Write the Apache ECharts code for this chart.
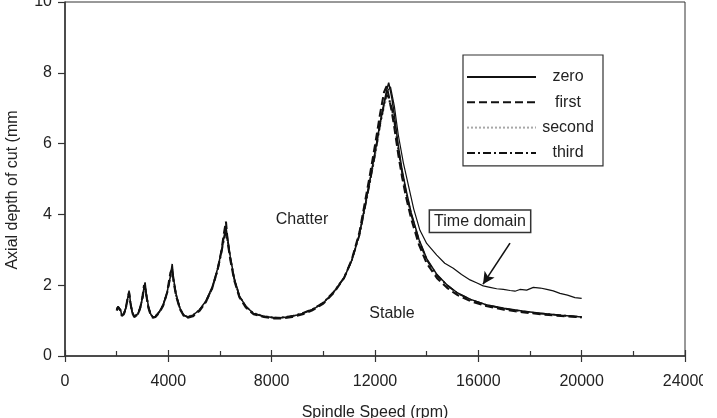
<!DOCTYPE html>
<html>
<head>
<meta charset="utf-8">
<script src="https://cdn.jsdelivr.net/npm/echarts@6/dist/echarts.min.js"></script>
<style>
html,body{margin:0;padding:0;background:#fff;}
#chart{width:703px;height:418px;}
</style>
</head>
<body>
<div id="chart"></div>
<script>
// ---- data ----
const speeds = [2000,2050,2100,2150,2200,2280,2350,2420,2480,2530,
  2600,2680,2750,2830,2920,3000,3060,3100,3150,3230,
  3320,3400,3500,3650,3800,3950,4080,4150,4200,4300,
  4450,4600,4750,4950,5200,5450,5700,5900,6050,6150,
  6230,6300,6400,6550,6750,7000,7300,7700,8100,8400,
  8800,9200,9600,10000,10400,10800,11100,11400,11600,11800,
  12000,12200,12350,12450,12530,12650,12750,12900,13050,13200,
  13400,13700,14000,14400,14800,15200,15700,16300,17000,17700,
  18400,19200,20000];
const zeroDepth = [1.30,1.40,1.45,1.30,1.15,1.20,1.35,1.60,1.85,1.55,
  1.25,1.12,1.10,1.20,1.40,1.65,1.95,2.08,1.75,1.40,
  1.18,1.10,1.12,1.25,1.45,1.80,2.25,2.60,2.20,1.75,
  1.35,1.15,1.10,1.15,1.30,1.55,1.95,2.45,2.95,3.35,
  3.65,3.30,2.80,2.20,1.70,1.40,1.20,1.12,1.08,1.08,
  1.12,1.20,1.32,1.50,1.80,2.20,2.70,3.45,4.20,4.95,
  5.75,6.60,7.15,7.50,7.72,7.30,6.80,5.95,5.25,4.70,
  4.05,3.30,2.75,2.30,2.00,1.78,1.60,1.45,1.35,1.27,
  1.21,1.15,1.10];
const firstDepth = [1.28,1.38,1.42,1.28,1.13,1.18,1.33,1.62,1.80,1.50,
  1.22,1.10,1.08,1.18,1.38,1.68,2.00,2.02,1.70,1.36,
  1.15,1.08,1.10,1.22,1.42,1.78,2.35,2.45,2.12,1.70,
  1.32,1.13,1.08,1.12,1.27,1.52,1.92,2.42,2.95,3.45,
  3.80,3.20,2.72,2.14,1.66,1.37,1.18,1.10,1.06,1.06,
  1.10,1.18,1.30,1.48,1.78,2.20,2.72,3.50,4.30,5.10,
  5.95,6.85,7.45,7.62,7.35,6.90,6.45,5.70,5.05,4.50,
  3.88,3.15,2.62,2.20,1.92,1.72,1.55,1.41,1.31,1.24,
  1.18,1.13,1.09];
const secondDepth = [1.32,1.41,1.44,1.32,1.17,1.22,1.36,1.58,1.78,1.52,
  1.26,1.14,1.12,1.21,1.40,1.63,1.90,2.00,1.72,1.39,
  1.19,1.12,1.14,1.26,1.46,1.78,2.20,2.45,2.16,1.73,
  1.35,1.17,1.12,1.17,1.31,1.55,1.93,2.40,2.88,3.25,
  3.45,3.22,2.75,2.18,1.70,1.41,1.22,1.14,1.10,1.10,
  1.14,1.22,1.34,1.52,1.82,2.22,2.70,3.40,4.10,4.85,
  5.60,6.45,7.00,7.28,7.20,6.95,6.55,5.80,5.15,4.60,
  3.98,3.25,2.70,2.27,1.98,1.77,1.59,1.45,1.34,1.26,
  1.20,1.15,1.11];
const thirdDepth = [1.30,1.39,1.43,1.30,1.15,1.20,1.34,1.57,1.76,1.52,
  1.24,1.12,1.10,1.19,1.38,1.62,1.90,1.98,1.72,1.38,
  1.17,1.10,1.12,1.24,1.44,1.77,2.22,2.42,2.15,1.72,
  1.34,1.15,1.10,1.15,1.29,1.53,1.92,2.40,2.90,3.28,
  3.50,3.25,2.77,2.18,1.69,1.40,1.20,1.12,1.08,1.09,
  1.13,1.21,1.33,1.51,1.81,2.21,2.70,3.42,4.15,4.90,
  5.68,6.55,7.10,7.38,7.30,7.00,6.62,5.85,5.18,4.63,
  4.00,3.27,2.72,2.28,1.99,1.77,1.59,1.44,1.34,1.26,
  1.20,1.15,1.10];
const tdSpeeds = [11400,11800,12200,12450,12600,12750,12900,13100,13300,13500,
  13740,14000,14390,14700,15030,15350,15680,15950,16190,16450,
  16710,16970,17230,17420,17610,17870,18130,18400,18650,18900,
  19160,19450,19740,20000];
const tdDepth = [3.45,4.95,6.60,7.45,7.60,7.05,6.25,5.45,4.80,4.15,
  3.55,3.18,2.85,2.62,2.48,2.30,2.15,2.06,1.98,1.94,
  1.90,1.88,1.85,1.83,1.88,1.86,1.94,1.92,1.88,1.84,
  1.77,1.72,1.65,1.63];
const legendNames = ['zero','first','second','third'];
const noteTexts = ['Chatter','Stable','Time domain'];
const noteX = [9174,12658,16065];
const noteY = [3.84,1.19,3.81];
const arrowFrom = [17226,3.19];
const arrowTo = [16181,2.03];
const xTicks = {min:0,max:24000,step:4000};
const yTicks = {min:0,max:10,step:2};

// ---- chart ----
const pair = (xs, ys) => xs.map((x,i)=>[x, ys[i]]);
const FONT = "'Liberation Sans', Arial, sans-serif";
const TXT = '#222';
const NOFILL = 'rgba(0,0,0,0)';
const chart = echarts.init(document.getElementById('chart'), null, {renderer:'canvas'});
const base = {type:'line', showSymbol:false, symbol:'none', smooth:false, animation:false, silent:true,
  itemStyle:{color:NOFILL, borderColor:NOFILL, borderWidth:0}};
const option = {
  animation:false,
  textStyle:{fontFamily:FONT},
  grid:{left:65, right:18, top:2, bottom:62, show:true, borderColor:'#333', borderWidth:1,
    containLabel:false, outerBoundsMode:'none'},
  legend:{
    data:legendNames,
    orient:'vertical', left:463, top:55,
    padding:[14,8,5,3],
    itemWidth:69, itemHeight:14, itemGap:9.3,
    borderColor:'#333', borderWidth:1.2, backgroundColor:'#fff',
    itemStyle:{color:NOFILL, borderColor:NOFILL, borderWidth:0, opacity:0},
    formatter: n => '{c|' + n + '}',
    textStyle:{fontFamily:FONT, fontSize:16, color:TXT, lineHeight:14,
      rich:{c:{width:54, align:'center', fontSize:16, color:TXT, fontFamily:FONT, lineHeight:14}}},
    selectedMode:false
  },
  xAxis:[{
    type:'value', min:xTicks.min, max:xTicks.max, interval:xTicks.step,
    name:'Spindle Speed (rpm)', nameLocation:'middle', nameGap:49,
    nameTextStyle:{fontSize:16, color:TXT, fontFamily:FONT},
    axisLine:{show:true, onZero:false, lineStyle:{color:'#333', width:1.5}},
    axisTick:{show:true, inside:false, length:6, lineStyle:{color:'#333', width:1.2}},
    axisLabel:{fontSize:16, color:TXT, margin:18, fontFamily:FONT, formatter: v => String(v),
      showMaxLabel:true, hideOverlap:false},
    splitLine:{show:false}
  },{
    type:'value', position:'bottom', min:xTicks.min, max:xTicks.max, interval:xTicks.step,
    axisLine:{show:false},
    axisTick:{show:true, inside:true, length:6, lineStyle:{color:'#333', width:1.2}},
    minorTick:{show:true, splitNumber:2, length:5, lineStyle:{color:'#333', width:1.2}},
    axisLabel:{show:false}, splitLine:{show:false}
  }],
  yAxis:{
    type:'value', min:yTicks.min, max:yTicks.max, interval:yTicks.step,
    axisLine:{show:true, lineStyle:{color:'#333', width:1.5}},
    axisTick:{show:true, inside:false, length:7, lineStyle:{color:'#333', width:1.2}},
    axisLabel:{fontSize:16, color:TXT, margin:13, fontFamily:FONT, formatter: v => String(v)},
    splitLine:{show:false}
  },
  graphic:[{
    type:'text', x:13, y:190, rotation:Math.PI/2,
    style:{text:'Axial depth of cut (mm', fontSize:16, fill:TXT, fontFamily:FONT, align:'center', verticalAlign:'middle'}
  }],
  series:[
    Object.assign({}, base, {name:'second', data:pair(speeds, secondDepth), z:2,
      lineStyle:{color:'#a8a8a8', width:1.3, type:[2,2]}}),
    Object.assign({}, base, {name:'third', data:pair(speeds, thirdDepth), z:3,
      lineStyle:{color:'#111', width:1.8, type:[8,3,2,3]}}),
    Object.assign({}, base, {name:'first', data:pair(speeds, firstDepth), z:4,
      lineStyle:{color:'#111', width:2.1, type:[8,4]}}),
    Object.assign({}, base, {name:'zero', data:pair(speeds, zeroDepth), z:5,
      lineStyle:{color:'#111', width:1.5, type:'solid'}}),
    Object.assign({}, base, {name:'Time domain curve', data:pair(tdSpeeds, tdDepth), z:6,
      lineStyle:{color:'#111', width:1.2, type:'solid'},
      markPoint:{
        silent:true, animation:false,
        symbol:'circle', symbolSize:1, itemStyle:{color:NOFILL},
        data: noteTexts.map((t,i)=>({
          coord:[noteX[i], noteY[i]],
          label:Object.assign({show:true, position:'inside', formatter:t, fontSize:16, color:TXT, fontFamily:FONT},
            t === 'Time domain' ? {borderColor:'#333', borderWidth:1.5, padding:[3,4,2,4], backgroundColor:'#fff'} : {})
        }))
      },
      markLine:{
        silent:true, animation:false,
        symbol:['none','arrow'], symbolSize:[9,12],
        label:{show:false},
        lineStyle:{color:'#111', width:1.6, type:'solid'},
        data:[[{coord:arrowFrom},{coord:arrowTo}]]
      }
    })
  ]
};
chart.setOption(option);
</script>
</body>
</html>
